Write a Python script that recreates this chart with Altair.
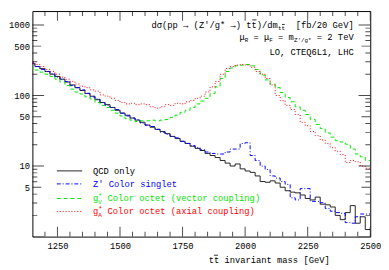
import altair as alt
import pandas as pd

# ---------------- data (fb / 20 GeV), bins of 20 GeV, left edges 1140..2480
bin_lo = list(range(1140, 2500, 20))

qcd = [282, 257, 240, 219, 200, 186, 170, 155, 141, 129,
       117.5, 107, 97.7, 87.1, 79.4, 74.1, 67.6, 61.7, 56.2, 52.5,
       47.9, 44.7, 41.7, 38.0, 35.5, 33.1, 30.9, 28.8, 26.3, 24.5,
       22.4, 20.9, 19.1, 17.8, 16.6, 15.1, 14.1, 13.2, 12.0, 11.0,
       10.0, 10.7, 9.12, 8.51, 8.13, 7.24, 6.03, 5.89, 6.17, 5.75,
       5.01, 4.47, 4.27, 4.17, 3.89, 3.47, 3.31, 3.63, 2.88, 2.82,
       2.63, 2.00, 1.74, 2.19, 2.75, 1.55, 1.91, 1.26]

zprime = [288, 257, 234, 219, 204, 182, 170, 158, 138, 129,
          120, 107, 95.5, 89.1, 79.4, 72.4, 67.6, 63.1, 56.2, 51.3,
          47.9, 45.7, 40.7, 38.0, 36.3, 33.1, 30.2, 28.2, 26.3, 25.1,
          22.4, 20.9, 19.5, 18.2, 17.0, 15.8, 15.1, 14.8, 14.8, 15.8,
          17.4, 17.4, 20.9, 21.4, 14.1, 12.0, 10.0, 8.91, 7.24, 6.76,
          6.03, 5.50, 3.55, 3.31, 4.79, 4.79, 3.16, 3.16, 3.02, 2.51,
          2.29, 2.19, 2.14, 1.58, 1.55, 1.91, 2.09, 2.09]

gv = [245, 229, 214, 200, 186, 170, 155, 138, 123, 112,
      105, 95.5, 89.1, 79.4, 72.4, 67.6, 61.7, 56.2, 51.3, 46.8,
      44.7, 42.7, 43.7, 43.7, 44.7, 43.7, 44.7, 45.7, 49.0, 52.5,
      57.5, 61.7, 67.6, 75.9, 83.2, 91.2, 107, 132, 174, 219,
      245, 263, 269, 275, 263, 234, 195, 166, 145, 129,
      110, 93.3, 81.3, 69.2, 61.7, 53.7, 45.7, 38.9, 33.9, 29.5,
      25.7, 22.9, 21.9, 20.4, 17.4, 14.8, 13.5, 12.0]

ga = [295, 275, 257, 234, 219, 200, 182, 170, 158, 145,
      135, 129, 120, 115, 102, 97.7, 91.2, 85.1, 79.4, 75.9,
      77.6, 74.1, 75.9, 74.1, 69.2, 66.1, 69.2, 74.1, 72.4, 77.6,
      75.9, 81.3, 85.1, 91.2, 97.7, 112, 132, 158, 200, 240,
      257, 269, 275, 269, 251, 219, 200, 174, 141, 100,
      85.1, 72.4, 63.1, 53.7, 41.7, 37.2, 30.9, 26.9, 23.4, 20.9,
      18.2, 16.2, 14.5, 11.2, 12.0, 11.5, 10.0, 9.33]

x_major = [1250, 1500, 1750, 2000, 2250, 2500]
x_minor = [1200, 1300, 1350, 1400, 1450, 1550, 1600, 1650, 1700, 1800,
           1850, 1900, 1950, 2050, 2100, 2150, 2200, 2300, 2350, 2400, 2450]
y_decade = [1, 10, 100, 1000]
y_mid = [5, 50, 500]
y_minor = [2, 3, 4, 6, 7, 8, 9, 20, 30, 40, 60, 70, 80, 90,
           200, 300, 400, 600, 700, 800, 900]
y_labels = [5, 10, 50, 100, 500, 1000]

# ---------------- styling
FONT = "Liberation Mono"
W, H = 346, 231
X_DOM = [1150, 2500]
Y_DOM = [1, 1570]
BLUE, GREEN, RED, BLACK = "#0000ff", "#00e600", "#ff0000", "#222222"

xs = alt.Scale(domain=X_DOM, nice=False, zero=False)
ys = alt.Scale(type="log", domain=Y_DOM, nice=False)

XAXIS = alt.Axis(
    values=x_major, format="d", ticks=False, domain=False, grid=False,
    labelFont=FONT, labelFontSize=9, labelColor="black", labelPadding=5,
    labelFlush=False,
    title="tt invariant mass [GeV]", titleFont=FONT, titleFontSize=9,
    titleFontWeight="normal", titleColor="black",
    titleX=242, titleY=24, titleAlign="center", titleBaseline="middle")
YAXIS = alt.Axis(
    values=y_labels, format="d", ticks=False, domain=False, grid=False,
    labelFont=FONT, labelFontSize=9, labelColor="black", labelPadding=3,
    minExtent=20, maxExtent=20, title=None)

XE = lambda: alt.X("m:Q", scale=xs, axis=XAXIS)
YE = lambda: alt.Y("v:Q", scale=ys, axis=YAXIS)

series = [
    (qcd, BLACK, None),
    (zprime, BLUE, [4, 2, 1, 2]),
    (gv, GREEN, [4, 3]),
    (ga, RED, [1, 2]),
]

layers = []
for vals, col, dash in series:
    df = pd.DataFrame({"m": bin_lo + [2500], "v": vals + [vals[-1]]})
    mk = dict(interpolate="step-after", clip=True, color=col, strokeWidth=1)
    if dash:
        mk["strokeDash"] = dash
    layers.append(alt.Chart(df).mark_line(**mk).encode(x=XE(), y=YE()))

# ---------------- inward ticks on all four sides
xt = pd.DataFrame({"m": x_major + x_minor,
                   "len": [20] * len(x_major) + [10] * len(x_minor)})
yt = pd.DataFrame({"v": y_decade + y_mid + y_minor,
                   "len": [24] * len(y_decade) + [18] * len(y_mid) + [10] * len(y_minor)})
for ypix in (0, H):
    layers.append(alt.Chart(xt).mark_tick(orient="vertical", thickness=1, color="black", clip=True)
                  .encode(x=XE(), y=alt.value(ypix),
                          size=alt.Size("len:Q", scale=None, legend=None)))
for xpix in (0, W):
    layers.append(alt.Chart(yt).mark_tick(orient="horizontal", thickness=1, color="black", clip=True)
                  .encode(y=YE(), x=alt.value(xpix),
                          size=alt.Size("len:Q", scale=None, legend=None)))


# ---------------- text helpers (monospace: char width = 0.6 * size)
def txt(s, x, y, size=9, color="black", align="left"):
    return alt.Chart(pd.DataFrame({"t": [s]})).mark_text(
        align=align, baseline="middle", font=FONT, fontSize=size, color=color
    ).encode(x=alt.value(x), y=alt.value(y), text="t:N")


def bar(x, y, size, color="black"):
    cw = 0.6 * size
    return alt.Chart(pd.DataFrame({"a": [0]})).mark_rule(color=color, strokeWidth=0.8).encode(
        x=alt.value(x + 0.1 * cw), x2=alt.value(x + 0.9 * cw), y=alt.value(y - 0.55 * size))


def place_right(chunks, right, y, color="black"):
    """chunks: (text, size, dy, index_of_char_to_overline or None)"""
    out = []
    total = sum(len(c[0]) * 0.6 * c[1] for c in chunks)
    x = right - total
    for i, (s, size, dy, ob) in enumerate(chunks):
        w = len(s) * 0.6 * size
        if i == len(chunks) - 1:
            out.append(txt(s.strip(), right, y + dy, size, color, align="right"))
        else:
            lead = len(s) - len(s.lstrip())
            out.append(txt(s.strip(), x + lead * 0.6 * size, y + dy, size, color))
        if ob is not None:
            out.append(bar(x + ob * 0.6 * size, y + dy, size, color))
        x += w
    return out


RIGHT = 329
layers += place_right([("d\u03c3(pp \u2192 (Z'/g* \u2192) tt)/dm", 9, 0, 19),
                       ("tt", 6, 3, 1),
                       ("  [fb/20 GeV]", 9, 0, None)], RIGHT, 14)
layers += place_right([("\u03bc", 9, 0, None), ("R", 6, 3, None), (" = \u03bc", 9, 0, None),
                       ("F", 6, 3, None), (" = m", 9, 0, None), ("Z'/g*", 6, 3, None),
                       (" = 2 TeV", 9, 0, None)], RIGHT, 27)
layers += place_right([("LO, CTEQ6L1, LHC", 9, 0, None)], RIGHT, 42)

# overline on axis title "tt" (second t)
layers.append(bar(242 - 23 * 0.6 * 9 / 2 + 0.6 * 9, H + 24, 9))

# ---------------- legend
legend_rows = [
    ("QCD only", None, BLACK, None, 163.7),
    ("Z' Color singlet", None, BLUE, [4, 2, 1, 2], 177),
    ("Color octet (vector coupling)", "V", GREEN, [4, 3], 192),
    ("Color octet (axial coupling)", "A", RED, [1, 2], 205.3),
]
for label, sub, col, dash, yy in legend_rows:
    rk = dict(color=col, strokeWidth=1)
    if dash:
        rk["strokeDash"] = dash
    layers.append(alt.Chart(pd.DataFrame({"a": [0]})).mark_rule(**rk).encode(
        x=alt.value(25), x2=alt.value(51), y=alt.value(yy)))
    tcol = "black" if col == BLACK else col
    if sub is None:
        layers.append(txt(label, 62, yy, 9, tcol))
    else:
        layers.append(txt("g", 62, yy, 9, tcol))
        layers.append(txt("*", 67.4, yy - 3, 7, tcol))
        layers.append(txt(sub, 67.4, yy + 3.5, 6, tcol))
        layers.append(txt(label, 77, yy, 9, tcol))

chart = alt.layer(*layers).properties(width=W, height=H, padding=0).configure_view(
    stroke="black", strokeWidth=1)

chart.save("out.html", embed_options={"renderer": "svg", "actions": False})
